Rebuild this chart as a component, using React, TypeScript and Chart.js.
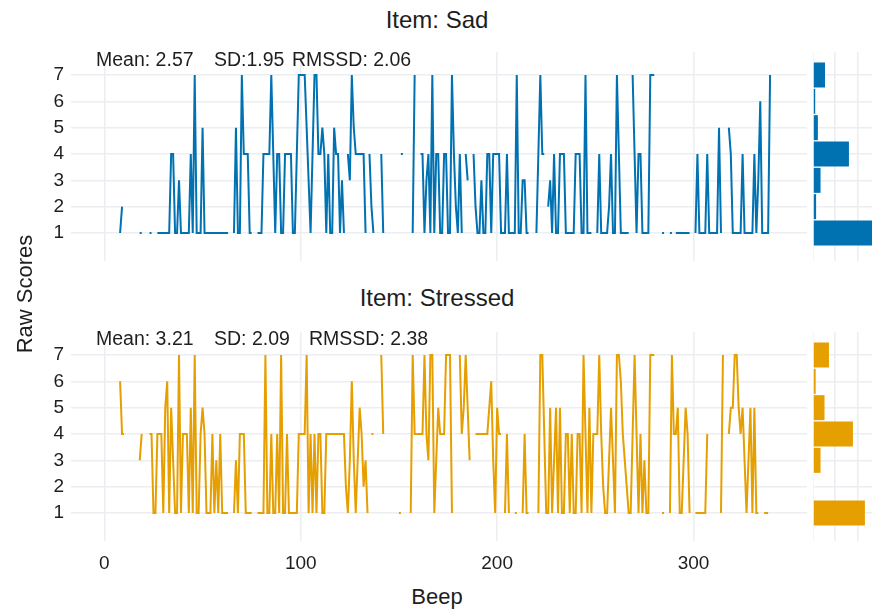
import React, { useEffect, useRef } from "react";
import { Chart, registerables } from "chart.js";
Chart.register(...registerables);

const _ = null;

// Item: Sad, raw score per beep (1..340), null = missing
const sadScores = [
  _, _, _, _, _, _, _, 1, 2, _,
  _, _, _, _, _, _, _, 1, 1, _,
  _, _, 1, 1, _, _, 1, 1, 1, 1,
  1, 1, 1, 4, 4, 1, 1, 3, 1, 1,
  1, 1, 1, 4, 1, 7, 1, 1, 1, 5,
  1, 1, 1, 1, 1, 1, 1, 1, 1, 1,
  1, 1, 1, _, _, 1, 5, 1, 1, 7,
  4, 4, 4, 1, 1, _, _, 1, 1, 1,
  4, 4, 4, 4, 7, 4, 1, 4, 4, 1,
  1, 4, 4, 4, 4, 1, 1, 4, 7, 7,
  7, 7, 5, 3, 1, 4, 7, 7, 4, 4,
  5, 4, 1, 4, 1, 1, 5, 4, 4, 1,
  3, 1, _, 4, 3, 7, 5, 4, 4, 4,
  4, 4, 1, _, 4, 2, 1, _, _, _,
  4, 1, _, _, _, _, _, _, _, _,
  4, 4, _, _, _, _, 1, 7, _, _,
  4, 4, 1, 3, 4, 1, 7, 1, 4, 4,
  1, 1, 4, 4, 1, 1, 7, 4, 2, 1,
  4, 1, _, 4, 3, _, _, 4, 2, 1,
  1, 3, 1, 1, 4, 4, 1, 4, 4, 4,
  4, 1, 1, 1, 4, 1, 1, 1, 1, 7,
  1, 1, 3, 3, 1, 1, _, _, _, 1,
  4, 7, 4, 4, _, 2, 3, 1, 4, 1,
  1, 4, 4, 4, 1, 1, 1, 1, 1, 4,
  4, 4, 1, 1, 7, 1, 1, 1, _, _,
  1, 4, 1, 1, 1, 1, 2, 4, 1, 1,
  7, 4, 1, 1, 1, 1, 1, _, 7, 4,
  1, 4, 4, 1, 1, 1, 1, 7, 7, 7,
  _, _, _, 1, 1, _, _, 1, 1, _,
  1, 1, 1, 1, 1, 1, 1, 1, _, _,
  1, 4, 1, 1, 1, 1, 4, 1, 1, 1,
  1, 1, 5, 1, _, _, _, 5, 4, 1,
  1, 1, 1, 1, 4, 1, 1, 1, 1, 1,
  4, 1, 3, 6, 1, 1, 1, 1, 7, _,
];

// Item: Stressed, raw score per beep (1..340), null = missing
const stressedScores = [
  _, _, _, _, _, _, _, 6, 4, 4,
  _, _, _, _, _, _, _, 3, 4, _,
  _, _, 4, 4, 1, 1, 4, 4, 4, 1,
  5, 6, 1, 5, 3, 1, 1, 7, 1, 4,
  4, 4, 1, 5, 1, 7, 1, 1, 4, 5,
  4, 1, 1, 1, 4, 1, 3, 1, 4, 1,
  1, 1, 1, _, _, 1, 3, 1, 4, 4,
  4, 1, 1, 1, 1, _, _, 1, 1, 1,
  1, 7, 1, 1, 4, 1, 1, 4, 1, 7,
  1, 1, 4, 1, 1, 1, 1, 1, 4, 4,
  4, 4, 7, 1, 4, 1, 4, 1, 4, 4,
  1, 1, 4, 4, 4, 4, 4, 4, 4, 4,
  4, 4, 2, 1, 3, 6, 3, 1, 3, 5,
  4, 2, 3, 1, _, 4, 4, _, _, _,
  7, 4, _, _, _, _, _, _, _, 1,
  1, _, _, _, _, 1, 7, 4, 4, 4,
  4, 4, 7, 4, 3, 7, 7, 1, 3, 5,
  4, 4, 4, 7, 7, 7, 1, _, _, _,
  7, 4, 5, 7, 5, 3, _, _, 4, 4,
  4, 4, 4, 4, 4, 5, 6, 3, 1, 5,
  4, 4, _, 1, 4, 1, _, _, 1, 1,
  _, _, 1, 4, 1, 1, _, _, _, _,
  1, 7, 7, 4, 1, 1, 5, 1, 3, 5,
  1, 5, 1, 1, 4, 4, 1, 4, 1, 1,
  4, 4, 1, 7, 4, 1, 5, 1, 4, 4,
  4, 7, 4, 2, 1, 1, 3, 5, 3, 1,
  7, 7, 6, 4, 3, 2, 1, 1, 4, 7,
  4, 1, 4, 1, 3, 1, 1, 7, 7, 7,
  _, _, _, 1, 1, _, _, 1, 7, 4,
  4, 5, 1, 1, 3, 5, 4, 1, _, _,
  1, 1, 1, 1, 1, 1, 4, _, _, _,
  _, _, _, 1, 7, _, _, 4, 5, 5,
  7, 7, 5, 4, 5, 3, 1, 3, 5, 1,
  5, 1, 1, _, _, 1, 1, 1, _, _,
];

const scoreLevels = [1, 2, 3, 4, 5, 6, 7];
const sadCounts = [180, 7, 17, 81, 11, 5, 27];
const stressedCounts = [117, 0, 17, 90, 26, 6, 36];

const beepTicks = [0, 100, 200, 300];
const scoreTicks = [1, 2, 3, 4, 5, 6, 7];
const countTicks = [0, 50, 100];

const FONT = "'Liberation Sans', Arial, sans-serif";
const GRID = "#eceef2";
const BLUE = "#0072B2";
const ORANGE = "#E69F00";
const TEXT = "#1e1e1e";
const Y_MIN = -0.063;
const Y_MAX = 7.873;

const setTicks = (values: number[]) => (scale: any) => {
  scale.ticks = values.map((v) => ({ value: v }));
};
const fixSize = (w?: number, h?: number) => (scale: any) => {
  if (w !== undefined) scale.width = w;
  if (h !== undefined) scale.height = h;
  scale.paddingTop = 0;
  scale.paddingBottom = 0;
  scale.paddingLeft = 0;
  scale.paddingRight = 0;
};

const baseOptions = {
  animation: false,
  responsive: false,
  events: [],
  layout: { padding: 0 },
  plugins: { legend: { display: false }, tooltip: { enabled: false }, title: { display: false } },
};

function lineConfig(values: (number | null)[], color: string, showX: boolean): any {
  return {
    type: "line",
    data: {
      datasets: [
        {
          data: values.map((v, i) => ({ x: i + 1, y: v })),
          borderColor: color,
          borderWidth: 2,
          pointRadius: 0,
          tension: 0,
          spanGaps: false,
          fill: false,
        },
      ],
    },
    options: {
      ...baseOptions,
      scales: {
        x: {
          type: "linear",
          min: -17,
          max: 357.8,
          afterBuildTicks: setTicks(beepTicks),
          afterFit: fixSize(undefined, showX ? 35 : 0),
          grid: { color: GRID, lineWidth: 1.6, drawTicks: false },
          border: { display: false },
          ticks: { display: showX, padding: 11, color: TEXT, font: { family: FONT, size: 19 } },
        },
        y: {
          type: "linear",
          min: Y_MIN,
          max: Y_MAX,
          afterBuildTicks: setTicks(scoreTicks),
          afterFit: fixSize(71, undefined),
          grid: { color: GRID, lineWidth: 1.6, drawTicks: false },
          border: { display: false },
          ticks: { padding: 7, color: TEXT, font: { family: FONT, size: 19 } },
        },
      },
    },
  };
}

function histConfig(counts: number[], color: string): any {
  return {
    type: "bar",
    data: {
      datasets: [
        {
          data: scoreLevels.map((v, i) => ({ x: counts[i], y: v })),
          backgroundColor: color,
          borderWidth: 0,
          barPercentage: 0.95,
          categoryPercentage: 1,
        },
      ],
    },
    options: {
      ...baseOptions,
      indexAxis: "y",
      scales: {
        x: {
          type: "linear",
          min: 0,
          max: 133,
          afterBuildTicks: setTicks(countTicks),
          afterFit: fixSize(undefined, 0),
          grid: { color: GRID, lineWidth: 1.6, drawTicks: false, offset: false },
          border: { display: false },
          ticks: { display: false },
        },
        y: {
          type: "linear",
          offset: false,
          min: Y_MIN,
          max: Y_MAX,
          afterBuildTicks: setTicks(scoreTicks),
          afterFit: fixSize(0, undefined),
          grid: { color: GRID, lineWidth: 1.6, drawTicks: false, offset: false },
          border: { display: false },
          ticks: { display: false },
        },
      },
    },
  };
}

function ChartCanvas(props: { make: () => any; left: number; top: number; width: number; height: number }) {
  const ref = useRef<HTMLCanvasElement | null>(null);
  useEffect(() => {
    const chart = new Chart(ref.current as HTMLCanvasElement, props.make());
    return () => chart.destroy();
  }, []);
  return (
    <canvas
      ref={ref}
      width={props.width}
      height={props.height}
      style={{ position: "absolute", left: props.left, top: props.top, width: props.width, height: props.height }}
    />
  );
}

function Txt(props: { x: number; y: number; size: number; children: React.ReactNode; center?: boolean }) {
  const style: React.CSSProperties = {
    position: "absolute",
    top: props.y - 0.5 * props.size,
    fontFamily: FONT,
    fontSize: props.size,
    lineHeight: `${props.size}px`,
    color: TEXT,
    whiteSpace: "pre",
  };
  if (props.center) {
    style.left = props.x - 200;
    style.width = 400;
    style.textAlign = "center";
  } else {
    style.left = props.x;
  }
  return <div style={style}>{props.children}</div>;
}

export default function App() {
  return (
    <div style={{ position: "fixed", left: 0, top: 0, width: 872, height: 611, background: "#fff", overflow: "hidden" }}>
      <ChartCanvas make={() => lineConfig(sadScores, BLUE, false)} left={0} top={52} width={807} height={209} />
      <ChartCanvas make={() => histConfig(sadCounts, BLUE)} left={813} top={52} width={59} height={209} />
      <ChartCanvas make={() => lineConfig(stressedScores, ORANGE, true)} left={0} top={332} width={807} height={244} />
      <ChartCanvas make={() => histConfig(stressedCounts, ORANGE)} left={813} top={332} width={59} height={209} />

      <Txt x={437} y={20} size={24} center>Item: Sad</Txt>
      <Txt x={96} y={60} size={19.5}>Mean: 2.57</Txt>
      <Txt x={214} y={60} size={19.5}>SD:1.95</Txt>
      <Txt x={292} y={60} size={19.5}>RMSSD: 2.06</Txt>

      <Txt x={437} y={298} size={24} center>Item: Stressed</Txt>
      <Txt x={96} y={339} size={19.5}>Mean: 3.21</Txt>
      <Txt x={214} y={339} size={19.5}>SD: 2.09</Txt>
      <Txt x={309} y={339} size={19.5}>RMSSD: 2.38</Txt>

      <Txt x={437} y={597} size={22} center>Beep</Txt>
      <div
        style={{
          position: "absolute",
          left: 25 - 100,
          top: 294 - 11,
          width: 200,
          height: 22,
          lineHeight: "22px",
          fontSize: 22,
          fontFamily: FONT,
          color: TEXT,
          textAlign: "center",
          transform: "rotate(-90deg)",
          transformOrigin: "50% 50%",
        }}
      >
        Raw Scores
      </div>
    </div>
  );
}
